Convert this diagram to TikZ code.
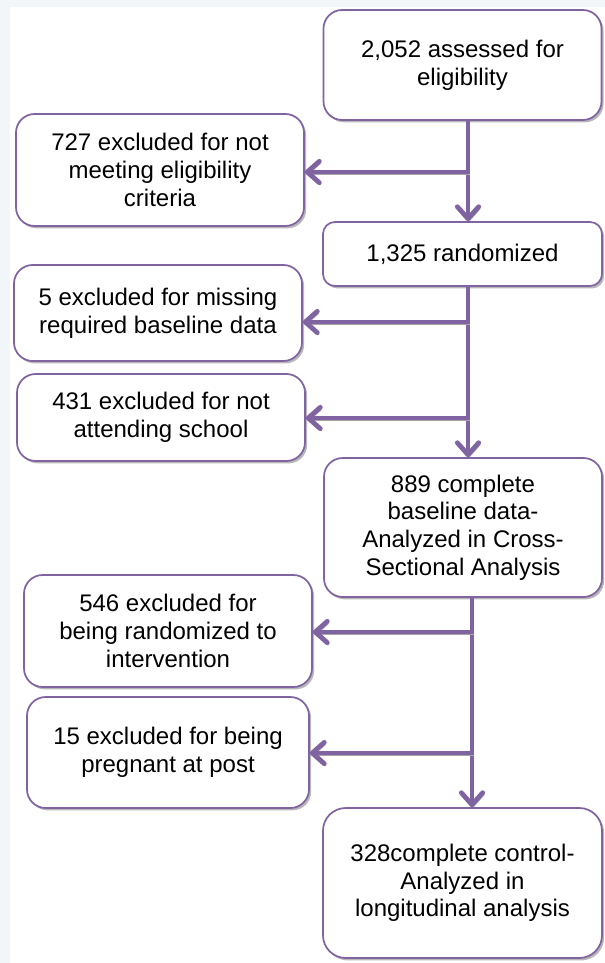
\documentclass[tikz,border=0pt]{standalone}
\usepackage{fontspec}
\setmainfont{Liberation Sans}
\usetikzlibrary{arrows.meta,shadows}
\definecolor{flowpurple}{HTML}{8064A2}
\definecolor{pagetint}{HTML}{F2F6F8}

\begin{document}
\begin{tikzpicture}[x=0.75pt,y=-0.75pt,
	flowbox/.style={draw=flowpurple, line width=1.3pt, fill=white, rounded corners=14pt, align=center, inner sep=0pt,
		font=\fontsize{18}{20.7}\selectfont,
		drop shadow={shadow xshift=1.6pt, shadow yshift=-1.8pt, fill=black!55, opacity=.5}},
	flowarrow/.style={draw=flowpurple, line width=3.6pt, -{Straight Barb[length=9pt,width=16pt,round]},
		preaction={draw=black!35, transform canvas={shift={(1.2pt,-1.6pt)}}}}]
\useasboundingbox (0,0) rectangle (605,963);
\fill[pagetint] (0,0) rectangle (605,963);
\fill[white] (10,7) rectangle (605,963);

\node[flowbox, minimum width=208.5pt, minimum height=82.5pt] (assessed) at (462.5,65) {2,052 assessed for\\eligibility};
\node[flowbox, minimum width=216pt, minimum height=84pt] (noteligible) at (160,170) {727 excluded for not\\meeting eligibility\\criteria};
\node[flowbox, minimum width=209.25pt, minimum height=48pt, rounded corners=9pt] (randomized) at (462.5,254) {1,325 randomized};
\node[flowbox, minimum width=216pt, minimum height=72pt] (missingdata) at (158,313) {5 excluded for missing\\required baseline data};
\node[flowbox, minimum width=216pt, minimum height=65.25pt] (notattending) at (161,417.5) {431 excluded for not\\attending school};
\node[flowbox, minimum width=208.5pt, minimum height=104.25pt] (baseline) at (463,527.5) {889 complete\\baseline data-\\Analyzed in Cross-\\Sectional Analysis};
\node[flowbox, minimum width=216pt, minimum height=84pt] (intervention) at (168,631) {546 excluded for\\being randomized to\\intervention};
\node[flowbox, minimum width=211.5pt, minimum height=83.25pt] (pregnant) at (168,752.5) {15 excluded for being\\pregnant at post};
\node[flowbox, minimum width=209.25pt, minimum height=112.5pt, rounded corners=17pt] (control) at (462.5,883) {328complete control-\\Analyzed in\\longitudinal analysis};

% branch points on the trunks
\coordinate (split1) at (468,172);
\coordinate (split2) at (468,322);
\coordinate (split3) at (468,418);
\coordinate (split4) at (472,632);
\coordinate (split5) at (472,753);

\draw[flowarrow] (assessed.south -| split1) -- (randomized.north -| split1);
\draw[flowarrow] (split1) -- (split1 -| noteligible.east);
\draw[flowarrow] (randomized.south -| split2) -- (baseline.north -| split2);
\draw[flowarrow] (split2) -- (split2 -| missingdata.east);
\draw[flowarrow] (split3) -- (split3 -| notattending.east);
\draw[flowarrow] (baseline.south -| split4) -- (control.north -| split4);
\draw[flowarrow] (split4) -- (split4 -| intervention.east);
\draw[flowarrow] (split5) -- (split5 -| pregnant.east);
\end{tikzpicture}
\end{document}
